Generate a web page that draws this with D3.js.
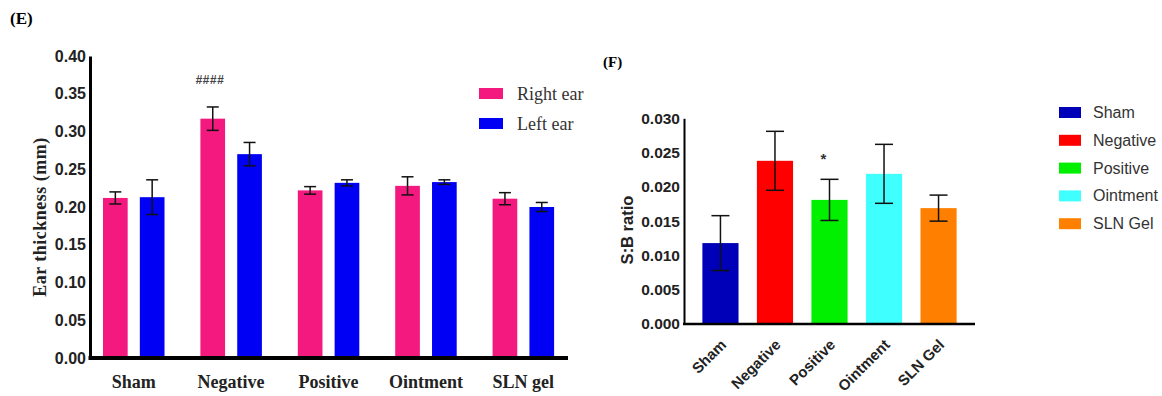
<!DOCTYPE html>
<html lang="en">
<head>
  <meta charset="utf-8">
  <title>Ear thickness and S:B ratio</title>
  <script src="https://d3js.org/d3.v7.min.js"></script>
  <style>
    body { margin: 0; background: #fff; }
    .serif { font-family: "Liberation Serif", "Times New Roman", serif; }
    .sans { font-family: "Liberation Sans", Arial, sans-serif; }
  </style>
</head>
<body>
<svg width="1162" height="396"></svg>

<script>
  // ---- panel E data ----
  var groupsE = ["Sham", "Negative", "Positive", "Ointment", "SLN gel"];
  var seriesE = ["Right ear", "Left ear"];
  var rightEar = [0.212, 0.317, 0.222, 0.228, 0.211];
  var rightErr = [0.008, 0.0155, 0.005, 0.012, 0.008];
  var leftEar = [0.213, 0.270, 0.232, 0.233, 0.200];
  var leftErr = [0.023, 0.0155, 0.004, 0.003, 0.006];
  var ticksE = [0, 0.05, 0.10, 0.15, 0.20, 0.25, 0.30, 0.35, 0.40];
  var colorsE = ["#f3197f", "#0000f5"];

  // ---- panel F data ----
  var groupsF = ["Sham", "Negative", "Positive", "Ointment", "SLN Gel"];
  var ratio = [0.0118, 0.0238, 0.0181, 0.0219, 0.0169];
  var ratioErr = [0.0040, 0.0043, 0.0030, 0.0043, 0.0019];
  var ticksF = [0, 0.005, 0.010, 0.015, 0.020, 0.025, 0.030];
  var colorsF = ["#0000b8", "#ff0000", "#00f000", "#40ffff", "#ff8000"];

  var svg = d3.select("svg");

  // ================= Panel E =================
  var gE = svg.append("g");

  var yE = d3.scaleLinear().domain([0, 0.40]).range([358, 56]);
  var xE = d3.scaleBand().domain(groupsE).range([85, 572]);
  var xInner = d3.scaleBand().domain(seriesE).range([18, 79.5]).paddingInner(0.33);

  var dataE = groupsE.map(function(g, i) {
    return [
      {group: g, s: seriesE[0], v: rightEar[i], e: rightErr[i]},
      {group: g, s: seriesE[1], v: leftEar[i], e: leftErr[i]}
    ];
  });

  var groupSel = gE.selectAll(".grp")
      .data(dataE)
      .enter().append("g")
      .attr("class", "grp")
      .attr("transform", function(d) { return "translate(" + xE(d[0].group) + ",0)"; });

  groupSel.selectAll("rect")
      .data(function(d) { return d; })
      .enter().append("rect")
      .attr("x", function(d) { return xInner(d.s); })
      .attr("y", function(d) { return yE(d.v); })
      .attr("width", xInner.bandwidth())
      .attr("height", function(d) { return yE(0) - yE(d.v); })
      .attr("fill", function(d, i) { return colorsE[i]; });

  var errE = groupSel.selectAll(".err")
      .data(function(d) { return d; })
      .enter().append("g")
      .attr("class", "err")
      .attr("stroke", "#111")
      .attr("stroke-width", 1.5);
  errE.append("line")
      .attr("x1", function(d) { return xInner(d.s) + xInner.bandwidth() / 2; })
      .attr("x2", function(d) { return xInner(d.s) + xInner.bandwidth() / 2; })
      .attr("y1", function(d) { return yE(d.v + d.e); })
      .attr("y2", function(d) { return yE(d.v - d.e); });
  [1, -1].forEach(function(sign) {
    errE.append("line")
        .attr("x1", function(d) { return xInner(d.s) + xInner.bandwidth() / 2 - 6; })
        .attr("x2", function(d) { return xInner(d.s) + xInner.bandwidth() / 2 + 6; })
        .attr("y1", function(d) { return yE(d.v + sign * d.e); })
        .attr("y2", function(d) { return yE(d.v + sign * d.e); });
  });

  // axes
  var yAxisE = d3.axisLeft(yE).tickValues(ticksE).tickSize(0).tickPadding(4)
      .tickFormat(d3.format(".2f"));
  gE.append("g")
      .attr("transform", "translate(90,0)")
      .call(yAxisE)
      .call(function(g) {
        g.select(".domain").attr("stroke", "#000").attr("stroke-width", 3);
        g.selectAll("text").attr("class", "sans").style("font-size", "16px")
          .style("font-weight", "bold").attr("fill", "#222");
      });

  var xAxisE = d3.axisBottom(xE).tickSize(0).tickPadding(17);
  gE.append("g")
      .attr("transform", "translate(0,358)")
      .call(xAxisE)
      .call(function(g) {
        g.select(".domain").attr("d", "M88.5,0H568").attr("stroke", "#000").attr("stroke-width", 4);
        g.selectAll("text").attr("class", "serif").style("font-size", "18px")
          .style("font-weight", "bold").attr("fill", "#222");
      });

  gE.append("text")
      .attr("class", "serif")
      .attr("transform", "translate(46,217) rotate(-90)")
      .attr("text-anchor", "middle")
      .style("font-size", "18px")
      .style("font-weight", "bold")
      .style("letter-spacing", "0.5px")
      .attr("fill", "#222")
      .text("Ear thickness (mm)");

  gE.append("text")
      .attr("class", "serif")
      .attr("x", 10).attr("y", 24)
      .style("font-size", "17px").style("font-weight", "bold")
      .text("(E)");

  gE.append("text")
      .attr("class", "sans")
      .attr("x", xE("Negative") + xInner("Right ear") + xInner.bandwidth() / 2 - 3)
      .attr("y", 84)
      .attr("text-anchor", "middle")
      .style("font-size", "12px").style("font-weight", "bold").style("font-style", "italic")
      .style("letter-spacing", "0.5px")
      .attr("fill", "#444")
      .text("####");

  var legE = gE.selectAll(".legE")
      .data(seriesE)
      .enter().append("g")
      .attr("transform", function(d, i) { return "translate(479," + (88 + i * 30) + ")"; });
  legE.append("rect").attr("width", 24).attr("height", 11)
      .attr("fill", function(d, i) { return colorsE[i]; });
  legE.append("text")
      .attr("class", "serif")
      .attr("x", 38).attr("y", 12)
      .style("font-size", "18px")
      .attr("fill", "#333")
      .text(function(d) { return d; });

  // ================= Panel F =================
  var gF = svg.append("g");

  var yF = d3.scaleLinear().domain([0, 0.030]).range([324, 118.3]);
  var xF = d3.scaleBand().domain(groupsF).range([684, 975]).padding(0.337);

  gF.selectAll(".barF")
      .data(groupsF)
      .enter().append("rect")
      .attr("class", "barF")
      .attr("x", function(d) { return xF(d); })
      .attr("y", function(d, i) { return yF(ratio[i]); })
      .attr("width", xF.bandwidth())
      .attr("height", function(d, i) { return yF(0) - yF(ratio[i]); })
      .attr("fill", function(d, i) { return colorsF[i]; });

  var errF = gF.selectAll(".errF")
      .data(groupsF)
      .enter().append("g")
      .attr("class", "errF")
      .attr("stroke", "#111")
      .attr("stroke-width", 1.5)
      .attr("transform", function(d) { return "translate(" + (xF(d) + xF.bandwidth() / 2) + ",0)"; });
  errF.append("line")
      .attr("y1", function(d, i) { return yF(ratio[i] + ratioErr[i]); })
      .attr("y2", function(d, i) { return yF(ratio[i] - ratioErr[i]); });
  [1, -1].forEach(function(sign) {
    errF.append("line")
        .attr("x1", -9).attr("x2", 9)
        .attr("y1", function(d, i) { return yF(ratio[i] + sign * ratioErr[i]); })
        .attr("y2", function(d, i) { return yF(ratio[i] + sign * ratioErr[i]); });
  });

  var yAxisF = d3.axisLeft(yF).tickValues(ticksF).tickSize(0).tickPadding(4)
      .tickFormat(d3.format(".3f"));
  gF.append("g")
      .attr("transform", "translate(684,0)")
      .call(yAxisF)
      .call(function(g) {
        g.select(".domain").attr("stroke", "#000").attr("stroke-width", 2);
        g.selectAll("text").attr("class", "sans").style("font-size", "15.5px")
          .style("font-weight", "bold").attr("fill", "#222");
      });

  var xAxisF = d3.axisBottom(xF).tickSize(0).tickPadding(0);
  gF.append("g")
      .attr("transform", "translate(0,324)")
      .call(xAxisF)
      .call(function(g) {
        g.select(".domain").attr("d", "M683,0H975").attr("stroke", "#000").attr("stroke-width", 2.5);
        g.selectAll("text")
          .attr("class", "sans")
          .attr("text-anchor", "end")
          .attr("dy", "0.35em")
          .attr("transform", "translate(3,18) rotate(-45)")
          .attr("y", 0)
          .style("font-size", "15px").style("font-weight", "bold").attr("fill", "#222");
      });

  gF.append("text")
      .attr("class", "sans")
      .attr("transform", "translate(633,230) rotate(-90)")
      .attr("text-anchor", "middle")
      .style("font-size", "16.5px").style("font-weight", "bold")
      .attr("fill", "#222")
      .text("S:B ratio");

  gF.append("text")
      .attr("class", "serif")
      .attr("x", 603).attr("y", 67)
      .style("font-size", "15px").style("font-weight", "bold")
      .text("(F)");

  gF.append("text")
      .attr("class", "sans")
      .attr("x", xF("Positive") + xF.bandwidth() / 2 - 6)
      .attr("y", 164)
      .attr("text-anchor", "middle")
      .style("font-size", "15px").style("font-weight", "bold")
      .attr("fill", "#333")
      .text("*");

  var legF = gF.selectAll(".legF")
      .data(groupsF)
      .enter().append("g")
      .attr("transform", function(d, i) { return "translate(1059," + (107 + i * 27.8) + ")"; });
  legF.append("rect").attr("width", 22).attr("height", 11)
      .attr("fill", function(d, i) { return colorsF[i]; });
  legF.append("text")
      .attr("class", "sans")
      .attr("x", 34).attr("y", 11)
      .style("font-size", "16px")
      .attr("fill", "#333")
      .text(function(d) { return d; });
</script>
</body>
</html>
